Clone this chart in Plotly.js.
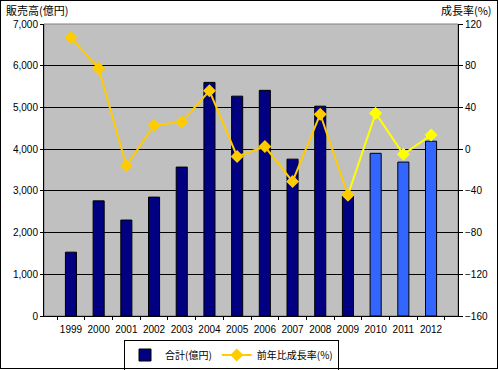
<!DOCTYPE html>
<html><head><meta charset="utf-8">
<script src="https://cdn.plot.ly/plotly-3.0.1.min.js"></script>
<style>body{margin:0;padding:0;background:#fff}#wrap{position:relative;width:498px;height:370px}#frame{position:absolute;left:0;top:0;width:498px;height:369px;border:1px solid #000;box-sizing:border-box;pointer-events:none}</style>
</head><body>
<div id="wrap"><div id="chart" style="width:498px;height:370px"></div><div id="frame"></div></div>
<script>
var years = ['1999','2000','2001','2002','2003','2004','2005','2006','2007','2008','2009','2010','2011','2012'];
var sales = [1530, 2760, 2300, 2850, 3570, 5600, 5270, 5410, 3760, 5030, 2880, 3900, 3690, 4190];
var growth = [107, 77.5, -16, 23, 26, 56, -7, 2.5, -31, 33.5, -44, 34.5, -5, 13.5];
var barColors = ['#000080','#000080','#000080','#000080','#000080','#000080','#000080','#000080','#000080','#000080','#000080','#3366FF','#3366FF','#3366FF'];
var seriesNames = ['合計(億円)', '前年比成長率(%)'];
var leftTitle = '販売高(億円)';
var rightTitle = '成長率(%)';

var W = 414, H = 292;
var jp = '"Noto Sans CJK JP", sans-serif';
var num = '"Liberation Sans", Arial, sans-serif';

var traces = [
  {type:'bar', x:years, y:sales, name:seriesNames[0], width:0.4,
   marker:{color:barColors, line:{color:'#000', width:1}}},
  {type:'scatter', mode:'lines+markers', x:years.slice(0,11), y:growth.slice(0,11), yaxis:'y2',
   name:seriesNames[1], line:{color:'#FFCC00', width:2},
   marker:{symbol:'diamond', size:10, color:'#FFCC00'}},
  {type:'scatter', mode:'lines+markers', x:years.slice(10), y:growth.slice(10), yaxis:'y2',
   showlegend:false, line:{color:'#FFFF00', width:2},
   marker:{symbol:'diamond', size:10, color:['#FFCC00','#FFFF00','#FFFF00','#FFFF00']}}
];

var layout = {
  width:498, height:370,
  margin:{l:44, r:40, t:24, b:54},
  paper_bgcolor:'#fff', plot_bgcolor:'#C0C0C0',
  showlegend:true,
  font:{family:num, size:10, color:'#000'},
  xaxis:{type:'category', tickson:'boundaries', ticks:'outside', ticklen:3, tickcolor:'#000',
    tickangle:0, automargin:false, ticklabelstandoff:4,
    showline:true, linecolor:'#000', linewidth:1, showgrid:false,
    tickfont:{family:num, size:10}},
  yaxis:{range:[0,7000], tickvals:[0,1000,2000,3000,4000,5000,6000,7000], automargin:false,
    tickformat:',d', ticks:'outside', ticklen:3, tickcolor:'#000',
    showline:true, linecolor:'#000', linewidth:1,
    showgrid:true, gridcolor:'#000', gridwidth:1, zeroline:false,
    tickfont:{family:num, size:10}},
  yaxis2:{range:[-160,120], tickvals:[-160,-120,-80,-40,0,40,80,120], automargin:false,
    overlaying:'y', side:'right', ticks:'outside', ticklen:4, tickcolor:'#000',
    showline:true, linecolor:'#000', linewidth:1, showgrid:false, zeroline:false,
    tickfont:{family:num, size:10}},
  legend:{orientation:'h', xref:'container', yref:'container',
    x:231.5/498, xanchor:'center', y:1-355/370, yanchor:'middle',
    bordercolor:'#000', borderwidth:1, bgcolor:'#fff',
    font:{family:jp, size:10}, itemwidth:30, tracegroupgap:0},
  shapes:[{type:'rect', xref:'paper', yref:'paper', x0:0, x1:1, y0:0, y1:1,
    line:{color:'#808080', width:1}, layer:'below'}],
  annotations:[
    {xref:'paper', yref:'paper', x:(4-44)/W, y:1+(24-10)/H, xanchor:'left', yanchor:'middle',
     text:leftTitle, showarrow:false, font:{family:jp, size:11}},
    {xref:'paper', yref:'paper', x:1+(494-458)/W, y:1+(24-10)/H, xanchor:'right', yanchor:'middle',
     text:rightTitle, showarrow:false, font:{family:jp, size:11}}
  ]
};
Plotly.newPlot('chart', traces, layout, {displayModeBar:false, staticPlot:true});
</script>
</body></html>
